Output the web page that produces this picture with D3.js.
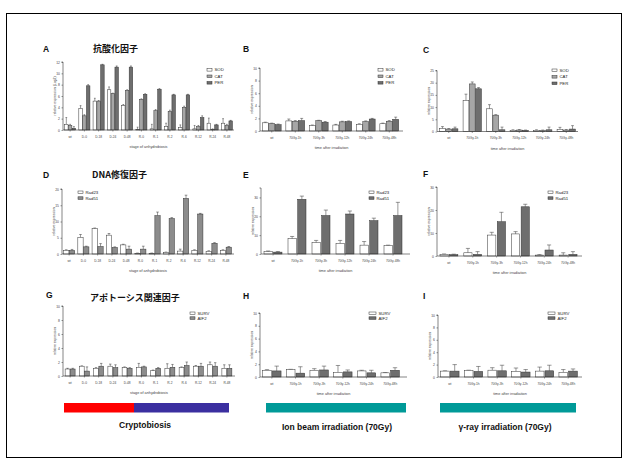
<!DOCTYPE html>
<html><head><meta charset="utf-8">
<script src="https://cdn.jsdelivr.net/npm/d3@7"></script>
<style>body{margin:0;background:#fff}svg{display:block}</style>
</head><body>
<svg id="c" width="630" height="460"></svg>
<script>
// ---------- data ----------
const catsStage = ["wt","D-0","D-18","D-24","D-48","R-0","R-1","R-2","R-6","R-12","R-24","R-48"];
const catsIrr = ["wt","70Gy-1h","70Gy-3h","70Gy-12h","70Gy-24h","70Gy-48h"];

// A: antioxidant (log2)
const sodA = [1.0,3.8,5.1,7.1,4.3,0.05,0.2,0.6,0.4,0.2,1.2,1.2];
const sodAErr = [1.2,0.5,0.5,0.5,0.2,0.45,0.8,0.6,0.5,0.6,0.9,0.8];
const catA = [0.8,2.5,5.1,6.4,7.0,5.4,3.4,3.3,4.0,0.6,0.1,0.8];
const catAErr = [0.2,0.2,0.1,0.1,0.1,0.1,0.2,0.2,0.2,0.2,0.1,0.2];
const perA = [0.3,7.8,11.5,11.1,11.1,6.3,7.2,6.2,6.2,2.2,0.9,1.6];
const perAErr = [0.3,0.2,0.1,0.2,0.2,0.1,0.1,0.1,0.1,0.3,0.1,0.1];
// B: ion beam
const sodB = [1.3,1.6,0.85,0.95,1.05,1.15], sodBErr = [0.1,0.3,0.1,0.1,0.1,0.1];
const catB = [1.2,1.55,1.65,1.45,1.5,1.55], catBErr = [0.05,0.1,0.05,0.1,0.1,0.1];
const perB = [1.0,1.65,1.4,1.5,1.9,1.85], perBErr = [0.1,0.35,0.1,0.1,0.1,0.35];
// C: gamma
const sodC = [1.2,12.7,9.3,0.5,0.5,0.9], sodCErr = [0.8,2.6,1.7,0.2,0.2,0.8];
const catC = [1.0,19.5,6.7,0.6,0.4,0.6], catCErr = [0.2,0.8,0.2,0.2,0.2,0.2];
const perC = [1.1,17.5,0.7,0.5,0.7,1.0], perCErr = [0.7,0.5,1.1,0.1,1.1,1.4];
// D: DNA repair, cryptobiosis
const rad23D = [1.1,5.1,7.8,5.8,2.8,0.2,0.2,0.5,0.9,1.1,0.8,1.1];
const rad23DErr = [0.2,0.9,0.2,0.5,0.2,0.1,0.1,0.1,0.6,0.2,0.2,0.2];
const rad51D = [1.1,2.2,2.3,2.0,1.5,1.5,11.8,10.9,17.1,12.3,3.3,2.1];
const rad51DErr = [0.3,0.2,0.9,0.2,0.9,0.9,1.1,0.3,1.0,0.2,0.2,0.2];
// E: ion beam
const rad23E = [1.2,8.1,6.0,5.6,4.7,4.4], rad23EErr = [0.4,1.2,1.2,1.6,1.9,0.3];
const rad51E = [1.0,29.0,20.4,21.2,17.7,20.4], rad51EErr = [0.3,1.7,2.9,1.6,1.3,7.0];
// F: gamma
const rad23F = [0.7,1.4,9.1,9.6,0.4,0.4], rad23FErr = [0.2,1.9,1.2,1.0,0.2,1.0];
const rad51F = [0.6,0.7,14.9,21.4,2.6,0.7], rad51FErr = [0.2,1.2,4.1,1.1,2.2,1.2];
// G: apoptosis, cryptobiosis
const survG = [1.0,1.4,1.1,1.4,1.2,1.25,0.75,1.1,1.2,1.4,1.6,1.1];
const survGErr = [0.1,0.05,0.1,0.3,0.1,0.55,0.1,0.65,0.1,0.1,0.4,0.5];
const aif2G = [1.0,0.7,1.4,1.2,1.1,1.3,1.1,1.25,1.5,1.4,1.4,1.1];
const aif2GErr = [0.1,0.6,0.4,0.4,0.1,0.1,0.1,0.4,0.5,0.4,0.5,0.5];
// H: ion beam
const survH = [1.05,1.15,1.05,0.7,0.95,0.65], survHErr = [0.1,0.05,0.25,1.1,0.1,0.05];
const aif2H = [0.95,0.6,1.1,0.8,0.65,1.05], aif2HErr = [0.75,1.0,0.6,0.3,0.4,0.4];
// I: gamma
const survI = [0.95,1.05,1.1,0.9,0.95,0.75], survIErr = [0.05,0.05,0.4,0.55,0.65,0.45];
const aif2I = [0.95,0.9,1.0,0.8,1.0,0.95], aif2IErr = [1.05,0.8,0.9,0.4,0.9,0.35];

const ticksA = [0,2,4,6,8,10,12];
const ticks10 = [0,2,4,6,8,10];
const ticks25 = [0,5,10,15,20,25];
const ticks20 = [0,5,10,15,20];
const ticks30 = [0,10,20,30];

// ---------- drawing ----------
const svg = d3.select("#c");
const FONT = "'Liberation Sans', Arial, sans-serif";
const CJK = "'Noto Sans CJK JP', sans-serif";
const WHITE = "#ffffff", G1 = "#a6a6a6", G2 = "#6e6e6e", G3 = "#8c8c8c";

svg.append("rect").attr("x",6.5).attr("y",13.5).attr("width",615).attr("height",444)
  .attr("fill","none").attr("stroke","#000").attr("stroke-width",1);

function panel(p){
  const g = svg.append("g");
  const x = d3.scaleBand().domain(p.cats).range([p.x0, p.x1]).paddingInner(p.pad).paddingOuter(p.pad/2);
  const sub = d3.scaleBand().domain(p.series.map(s=>s.name)).range([0, x.bandwidth()]).paddingInner(p.subPad||0.08);
  const y = d3.scaleLinear().domain(p.domain).range([p.yb, p.yt]);
  // bars
  p.series.forEach(s=>{
    const sg = g.append("g");
    sg.selectAll("line.e").data(p.cats).join("line")
      .attr("x1",(c)=>x(c)+sub(s.name)+sub.bandwidth()/2)
      .attr("x2",(c)=>x(c)+sub(s.name)+sub.bandwidth()/2)
      .attr("y1",(c,i)=>y(s.vals[i]))
      .attr("y2",(c,i)=>y(s.vals[i]+s.errs[i]))
      .attr("stroke","#333").attr("stroke-width",0.5);
    sg.selectAll("line.cap").data(p.cats).join("line")
      .attr("x1",(c)=>x(c)+sub(s.name)+sub.bandwidth()*0.25)
      .attr("x2",(c)=>x(c)+sub(s.name)+sub.bandwidth()*0.75)
      .attr("y1",(c,i)=>y(s.vals[i]+s.errs[i]))
      .attr("y2",(c,i)=>y(s.vals[i]+s.errs[i]))
      .attr("stroke","#333").attr("stroke-width",0.5);
    sg.selectAll("rect").data(p.cats).join("rect")
      .attr("x",(c)=>x(c)+sub(s.name))
      .attr("width",sub.bandwidth())
      .attr("y",(c,i)=>y(s.vals[i]))
      .attr("height",(c,i)=>y(0)-y(s.vals[i]))
      .attr("fill",s.fill).attr("stroke","#333").attr("stroke-width",0.5);
  });
  // y axis
  const ya = d3.axisLeft(y).tickValues(p.ticks).tickSize(1.5).tickPadding(1.5);
  const yg = g.append("g").attr("transform",`translate(${p.x0},0)`).call(ya);
  yg.select(".domain").attr("stroke","#333").attr("stroke-width",0.6).attr("d",`M-1.5,${p.yt}H0V${p.yb}`);
  yg.selectAll("line").attr("stroke","#333").attr("stroke-width",0.5);
  yg.selectAll("text").attr("font-size",3.4).attr("font-family",FONT).attr("fill","#444");
  // x axis
  const xa = d3.axisBottom(x).tickSize(1.5).tickPadding(4);
  const xg = g.append("g").attr("transform",`translate(0,${p.yb})`).call(xa);
  xg.select(".domain").attr("stroke","#333").attr("stroke-width",0.6).attr("d",`M${p.x0},0H${p.xEnd}`);
  xg.selectAll("line").attr("stroke","#333").attr("stroke-width",0.5);
  xg.selectAll("text").attr("font-size",3.2).attr("font-family",FONT).attr("fill","#444");
  // titles
  g.append("text").attr("x",(p.x0+p.xEnd)/2).attr("y",p.yb+18).attr("text-anchor","middle")
    .attr("font-size",3.8).attr("font-family",FONT).attr("fill","#444").text(p.xLabel);
  g.append("text").attr("transform",`translate(${p.x0-7},${(p.yb+p.yt)/2}) rotate(-90)`)
    .attr("text-anchor","middle").attr("font-size",3.4).attr("font-family",FONT).attr("fill","#444").text(p.yLabel);
  // legend
  p.series.forEach((s,i)=>{
    g.append("rect").attr("x",p.lx).attr("y",p.ly+i*p.lstep-1.5).attr("width",p.lw||5).attr("height",2.6)
      .attr("fill",s.fill).attr("stroke","#333").attr("stroke-width",0.5);
    g.append("text").attr("x",p.lx+(p.lw||5)+2.5).attr("y",p.ly+i*p.lstep+1.4)
      .attr("font-size",4.3).attr("font-family",FONT).attr("fill","#222").text(s.name);
  });
}

const stageX = "stage of anhydrobiosis", irrX = "time after irradiation", rel = "relative expression";

panel({cats:catsStage,x0:63,x1:234,xEnd:234,pad:0.22,yb:130,yt:62,domain:[0,12],ticks:ticksA,
  series:[{name:"SOD",vals:sodA,errs:sodAErr,fill:WHITE},{name:"CAT",vals:catA,errs:catAErr,fill:G1},{name:"PER",vals:perA,errs:perAErr,fill:G2}],
  xLabel:stageX,yLabel:"relative expression (Log2)",lx:207,ly:70,lstep:6.5});
panel({cats:catsIrr,x0:260,x1:401,xEnd:403,pad:0.2,yb:131,yt:68,domain:[0,10],ticks:ticks10,
  series:[{name:"SOD",vals:sodB,errs:sodBErr,fill:WHITE},{name:"CAT",vals:catB,errs:catBErr,fill:G1},{name:"PER",vals:perB,errs:perBErr,fill:G2}],
  xLabel:irrX,yLabel:rel,lx:378,ly:70,lstep:6.5});
panel({cats:catsIrr,x0:437,x1:578,xEnd:578,pad:0.22,yb:131.5,yt:70.5,domain:[0,25],ticks:ticks25,
  series:[{name:"SOD",vals:sodC,errs:sodCErr,fill:WHITE},{name:"CAT",vals:catC,errs:catCErr,fill:G1},{name:"PER",vals:perC,errs:perCErr,fill:G2}],
  xLabel:irrX,yLabel:rel,lx:552,ly:70.5,lstep:6.5});
panel({cats:catsStage,x0:62,x1:233,xEnd:234,pad:0.22,yb:254,yt:189,domain:[0,20],ticks:ticks20,
  series:[{name:"Rad23",vals:rad23D,errs:rad23DErr,fill:WHITE},{name:"Rad51",vals:rad51D,errs:rad51DErr,fill:G3}],
  xLabel:stageX,yLabel:rel,lx:78,ly:192.5,lstep:5.8});
panel({cats:catsIrr,x0:261,x1:405,xEnd:410,pad:0.25,subPad:0.15,yb:254,yt:188,domain:[0,35],ticks:ticks30,
  series:[{name:"Rad23",vals:rad23E,errs:rad23EErr,fill:WHITE},{name:"Rad51",vals:rad51E,errs:rad51EErr,fill:G2}],
  xLabel:irrX,yLabel:rel,lx:369,ly:192.5,lstep:5.8});
panel({cats:catsIrr,x0:437,x1:580,xEnd:582,pad:0.25,subPad:0.15,yb:256,yt:187,domain:[0,30],ticks:ticks30,
  series:[{name:"Rad23",vals:rad23F,errs:rad23FErr,fill:WHITE},{name:"Rad51",vals:rad51F,errs:rad51FErr,fill:G2}],
  xLabel:irrX,yLabel:rel,lx:548,ly:192.5,lstep:5.8});
panel({cats:catsStage,x0:63,x1:234,xEnd:235,pad:0.3,yb:376,yt:306,domain:[0,10],ticks:ticks10,
  series:[{name:"SURV",vals:survG,errs:survGErr,fill:WHITE},{name:"AIF2",vals:aif2G,errs:aif2GErr,fill:G3}],
  xLabel:stageX,yLabel:rel,lx:190,ly:313.5,lstep:4.8});
panel({cats:catsIrr,x0:260,x1:402,xEnd:407,pad:0.22,subPad:0.1,yb:377,yt:313,domain:[0,10],ticks:ticks10,
  series:[{name:"SURV",vals:survH,errs:survHErr,fill:WHITE},{name:"AIF2",vals:aif2H,errs:aif2HErr,fill:G2}],
  xLabel:irrX,yLabel:rel,lx:369,ly:313.5,lstep:4.8,lw:7});
panel({cats:catsIrr,x0:438,x1:580,xEnd:582,pad:0.22,subPad:0.1,yb:377,yt:315,domain:[0,10],ticks:ticks10,
  series:[{name:"SURV",vals:survI,errs:survIErr,fill:WHITE},{name:"AIF2",vals:aif2I,errs:aif2IErr,fill:G2}],
  xLabel:irrX,yLabel:rel,lx:548,ly:313.5,lstep:4.8,lw:7});

// panel letters & titles
const letters = [["A",43,51.5],["B",243,51.5],["C",423,53],["D",43,178],["E",243,178],["F",423,177],["G",46,298],["H",243,299],["I",423,299]];
svg.selectAll("text.letter").data(letters).join("text").attr("class","letter")
  .attr("x",d=>d[1]).attr("y",d=>d[2]).text(d=>d[0])
  .attr("font-family",FONT).attr("font-weight","bold").attr("font-size",8.5).attr("fill","#111");
const titles = [["抗酸化因子",93,52],["DNA修復因子",92,178],["アポトーシス関連因子",90,300.5]];
svg.selectAll("text.title").data(titles).join("text").attr("class","title")
  .attr("x",d=>d[1]).attr("y",d=>d[2]).text(d=>d[0])
  .attr("font-family",CJK).attr("font-weight","bold").attr("font-size",9).attr("fill","#111");

// condition bars
const condBars = [[64,134,"#ff0000"],[134,229,"#3b2fa0"],[266,406,"#009a98"],[440,576,"#009a98"]];
svg.selectAll("rect.cond").data(condBars).join("rect").attr("class","cond")
  .attr("x",d=>d[0]).attr("width",d=>d[1]-d[0]).attr("y",403).attr("height",9.5).attr("fill",d=>d[2]);
const condLabels = [["Cryptobiosis",145,428],["Ion beam irradiation (70Gy)",337,430],["γ-ray irradiation (70Gy)",505,430]];
svg.selectAll("text.cond").data(condLabels).join("text").attr("class","cond")
  .attr("x",d=>d[1]).attr("y",d=>d[2]).attr("text-anchor","middle").text(d=>d[0])
  .attr("font-family",FONT).attr("font-weight","bold").attr("font-size",8.5).attr("fill","#111");
</script>
</body></html>
